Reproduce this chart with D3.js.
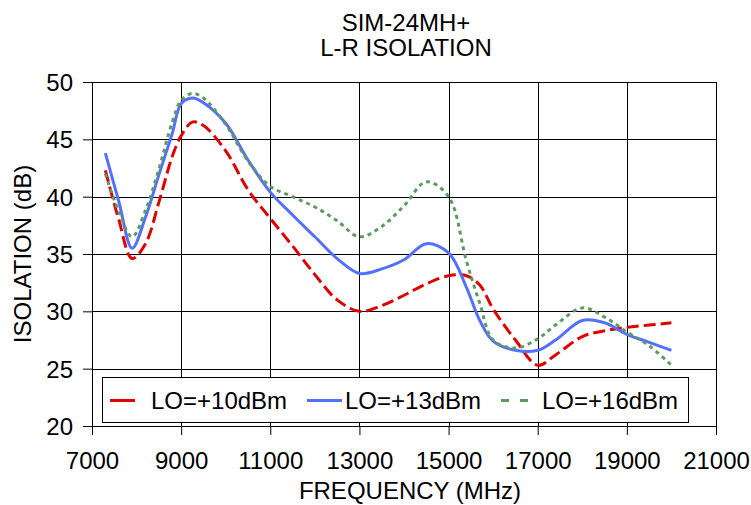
<!DOCTYPE html>
<html>
<head>
<meta charset="utf-8">
<script src="https://cdn.jsdelivr.net/npm/d3@7"></script>
<style>
  html, body { margin: 0; padding: 0; background: #fff; }
  svg { display: block; }
  text { font-family: "Liberation Sans", Arial, sans-serif; fill: #000; }
</style>
</head>
<body>
<svg id="chart" width="751" height="505"></svg>
<script>
// Measured L-R isolation (dB) versus frequency (MHz) for three LO drive levels
const frequencies = [7300, 7600, 7900, 8200, 8500, 8800, 9000, 9250, 9500, 10000,
  10500, 11000, 11500, 12000, 12500, 13000, 13500, 14000, 14500, 15000,
  15400, 15700, 16000, 16500, 17000, 17400, 18000, 18500, 19000, 19500, 20000];

const lo10 = [42.3, 38.0, 34.6, 35.9, 39.5, 43.5, 45.3, 46.5, 46.2, 44.0,
  40.6, 38.1, 35.7, 33.2, 31.0, 30.0, 30.5, 31.4, 32.4, 33.1,
  33.1, 32.3, 30.2, 27.5, 25.3, 26.2, 27.8, 28.3, 28.6, 28.8, 29.0];

const lo13 = [43.8, 39.6, 35.5, 38.2, 41.9, 45.5, 48.1, 48.6, 48.2, 46.4,
  43.2, 40.4, 38.4, 36.5, 34.6, 33.3, 33.7, 34.5, 35.9, 35.1,
  32.1, 29.2, 27.4, 26.6, 26.6, 27.5, 29.2, 29.0, 28.0, 27.3, 26.6];

const lo16 = [42.0, 38.7, 36.5, 38.8, 42.4, 46.5, 48.4, 49.0, 48.6, 46.3,
  43.1, 40.9, 40.0, 39.1, 37.9, 36.5, 37.4, 39.2, 41.3, 40.0,
  34.4, 30.7, 27.5, 26.8, 27.6, 28.8, 30.3, 29.5, 28.2, 27.0, 25.3];

const seriesNames = ["LO=+10dBm", "LO=+13dBm", "LO=+16dBm"];
const xTicks = [7000, 9000, 11000, 13000, 15000, 17000, 19000, 21000];
const yTicks = [20, 25, 30, 35, 40, 45, 50];

const titleLines = ["SIM-24MH+", "L-R ISOLATION"];
const xTitle = "FREQUENCY (MHz)";
const yTitle = "ISOLATION (dB)";

const styles = [
  { color: "#e00000", dash: "12,5", legendDash: "25,15" },
  { color: "#5470ff", dash: null, legendDash: null },
  { color: "#5e9a62", dash: "4,4", legendDash: "8,11" }
];

const svg = d3.select("#chart");
const plot = { left: 92, right: 716, top: 82, bottom: 426 };
const fontSize = 24;

const x = d3.scaleLinear().domain([7000, 21000]).range([plot.left, plot.right]);
const y = d3.scaleLinear().domain([20, 50]).range([plot.bottom, plot.top]);

// Grid
const grid = svg.append("g").attr("stroke", "#000").attr("stroke-width", 1);
grid.selectAll("line.h").data(yTicks).join("line")
  .attr("x1", plot.left).attr("x2", plot.right)
  .attr("y1", d => Math.round(y(d)) + 0.5).attr("y2", d => Math.round(y(d)) + 0.5);
grid.selectAll("line.v").data(xTicks).join("line")
  .attr("y1", plot.top).attr("y2", plot.bottom)
  .attr("x1", d => Math.round(x(d)) + 0.5).attr("x2", d => Math.round(x(d)) + 0.5);

// Axes
const xAxis = d3.axisBottom(x).tickValues(xTicks).tickFormat(d3.format("d"))
  .tickSizeInner(9).tickSizeOuter(0).tickPadding(17);
const yAxis = d3.axisLeft(y).tickValues(yTicks).tickFormat(d3.format("d"))
  .tickSizeInner(9).tickSizeOuter(0).tickPadding(10);

const gx = svg.append("g").attr("transform", `translate(0,${plot.bottom})`).call(xAxis);
const gy = svg.append("g").attr("transform", `translate(${plot.left},0)`).call(yAxis);
[gx, gy].forEach(g => {
  g.select(".domain").attr("stroke", "#000");
  g.selectAll(".tick line").attr("stroke", "#000");
  g.selectAll(".tick text")
    .style("font-family", '"Liberation Sans", Arial, sans-serif')
    .attr("font-size", fontSize).attr("fill", "#000");
});
gy.selectAll(".tick text").attr("dy", "0.36em");

// Series lines
const line = d3.line()
  .x(d => x(d[0]))
  .y(d => y(d[1]))
  .curve(d3.curveCatmullRom.alpha(0.5));

const allSeries = [lo10, lo13, lo16];
allSeries.forEach((vals, i) => {
  const pts = frequencies.map((f, k) => [f, vals[k]]);
  svg.append("path")
    .datum(pts)
    .attr("d", line)
    .attr("fill", "none")
    .attr("stroke", styles[i].color)
    .attr("stroke-width", 3)
    .attr("stroke-linejoin", "round")
    .attr("stroke-dasharray", styles[i].dash);
});

// Legend
const legend = { x: 102, y: 377.5, w: 586, h: 45 };
svg.append("rect")
  .attr("x", legend.x + 0.5).attr("y", legend.y)
  .attr("width", legend.w).attr("height", legend.h)
  .attr("fill", "#fff").attr("stroke", "#000").attr("stroke-width", 1);

const legendX = [110, 307, 501];
seriesNames.forEach((name, i) => {
  const g = svg.append("g").attr("transform", `translate(${legendX[i]},${legend.y + 23})`);
  g.append("line")
    .attr("x1", 0).attr("x2", 35).attr("y1", 0).attr("y2", 0)
    .attr("stroke", styles[i].color).attr("stroke-width", 3)
    .attr("stroke-dasharray", styles[i].legendDash);
  g.append("text")
    .attr("x", i === 1 ? 38 : 41).attr("y", 8.5)
    .attr("font-size", fontSize)
    .text(name);
});

// Titles
const cx = (plot.left + plot.right) / 2;
svg.append("text").attr("x", cx + 2).attr("y", 31).attr("text-anchor", "middle")
  .attr("font-size", fontSize).text(titleLines[0]);
svg.append("text").attr("x", cx + 2).attr("y", 56).attr("text-anchor", "middle")
  .attr("font-size", fontSize).text(titleLines[1]);

svg.append("text").attr("x", cx + 6).attr("y", 499).attr("text-anchor", "middle")
  .attr("font-size", fontSize).text(xTitle);

svg.append("text")
  .attr("transform", `translate(31,${(plot.top + plot.bottom) / 2}) rotate(-90)`)
  .attr("text-anchor", "middle")
  .attr("font-size", fontSize).text(yTitle);
</script>
</body>
</html>
